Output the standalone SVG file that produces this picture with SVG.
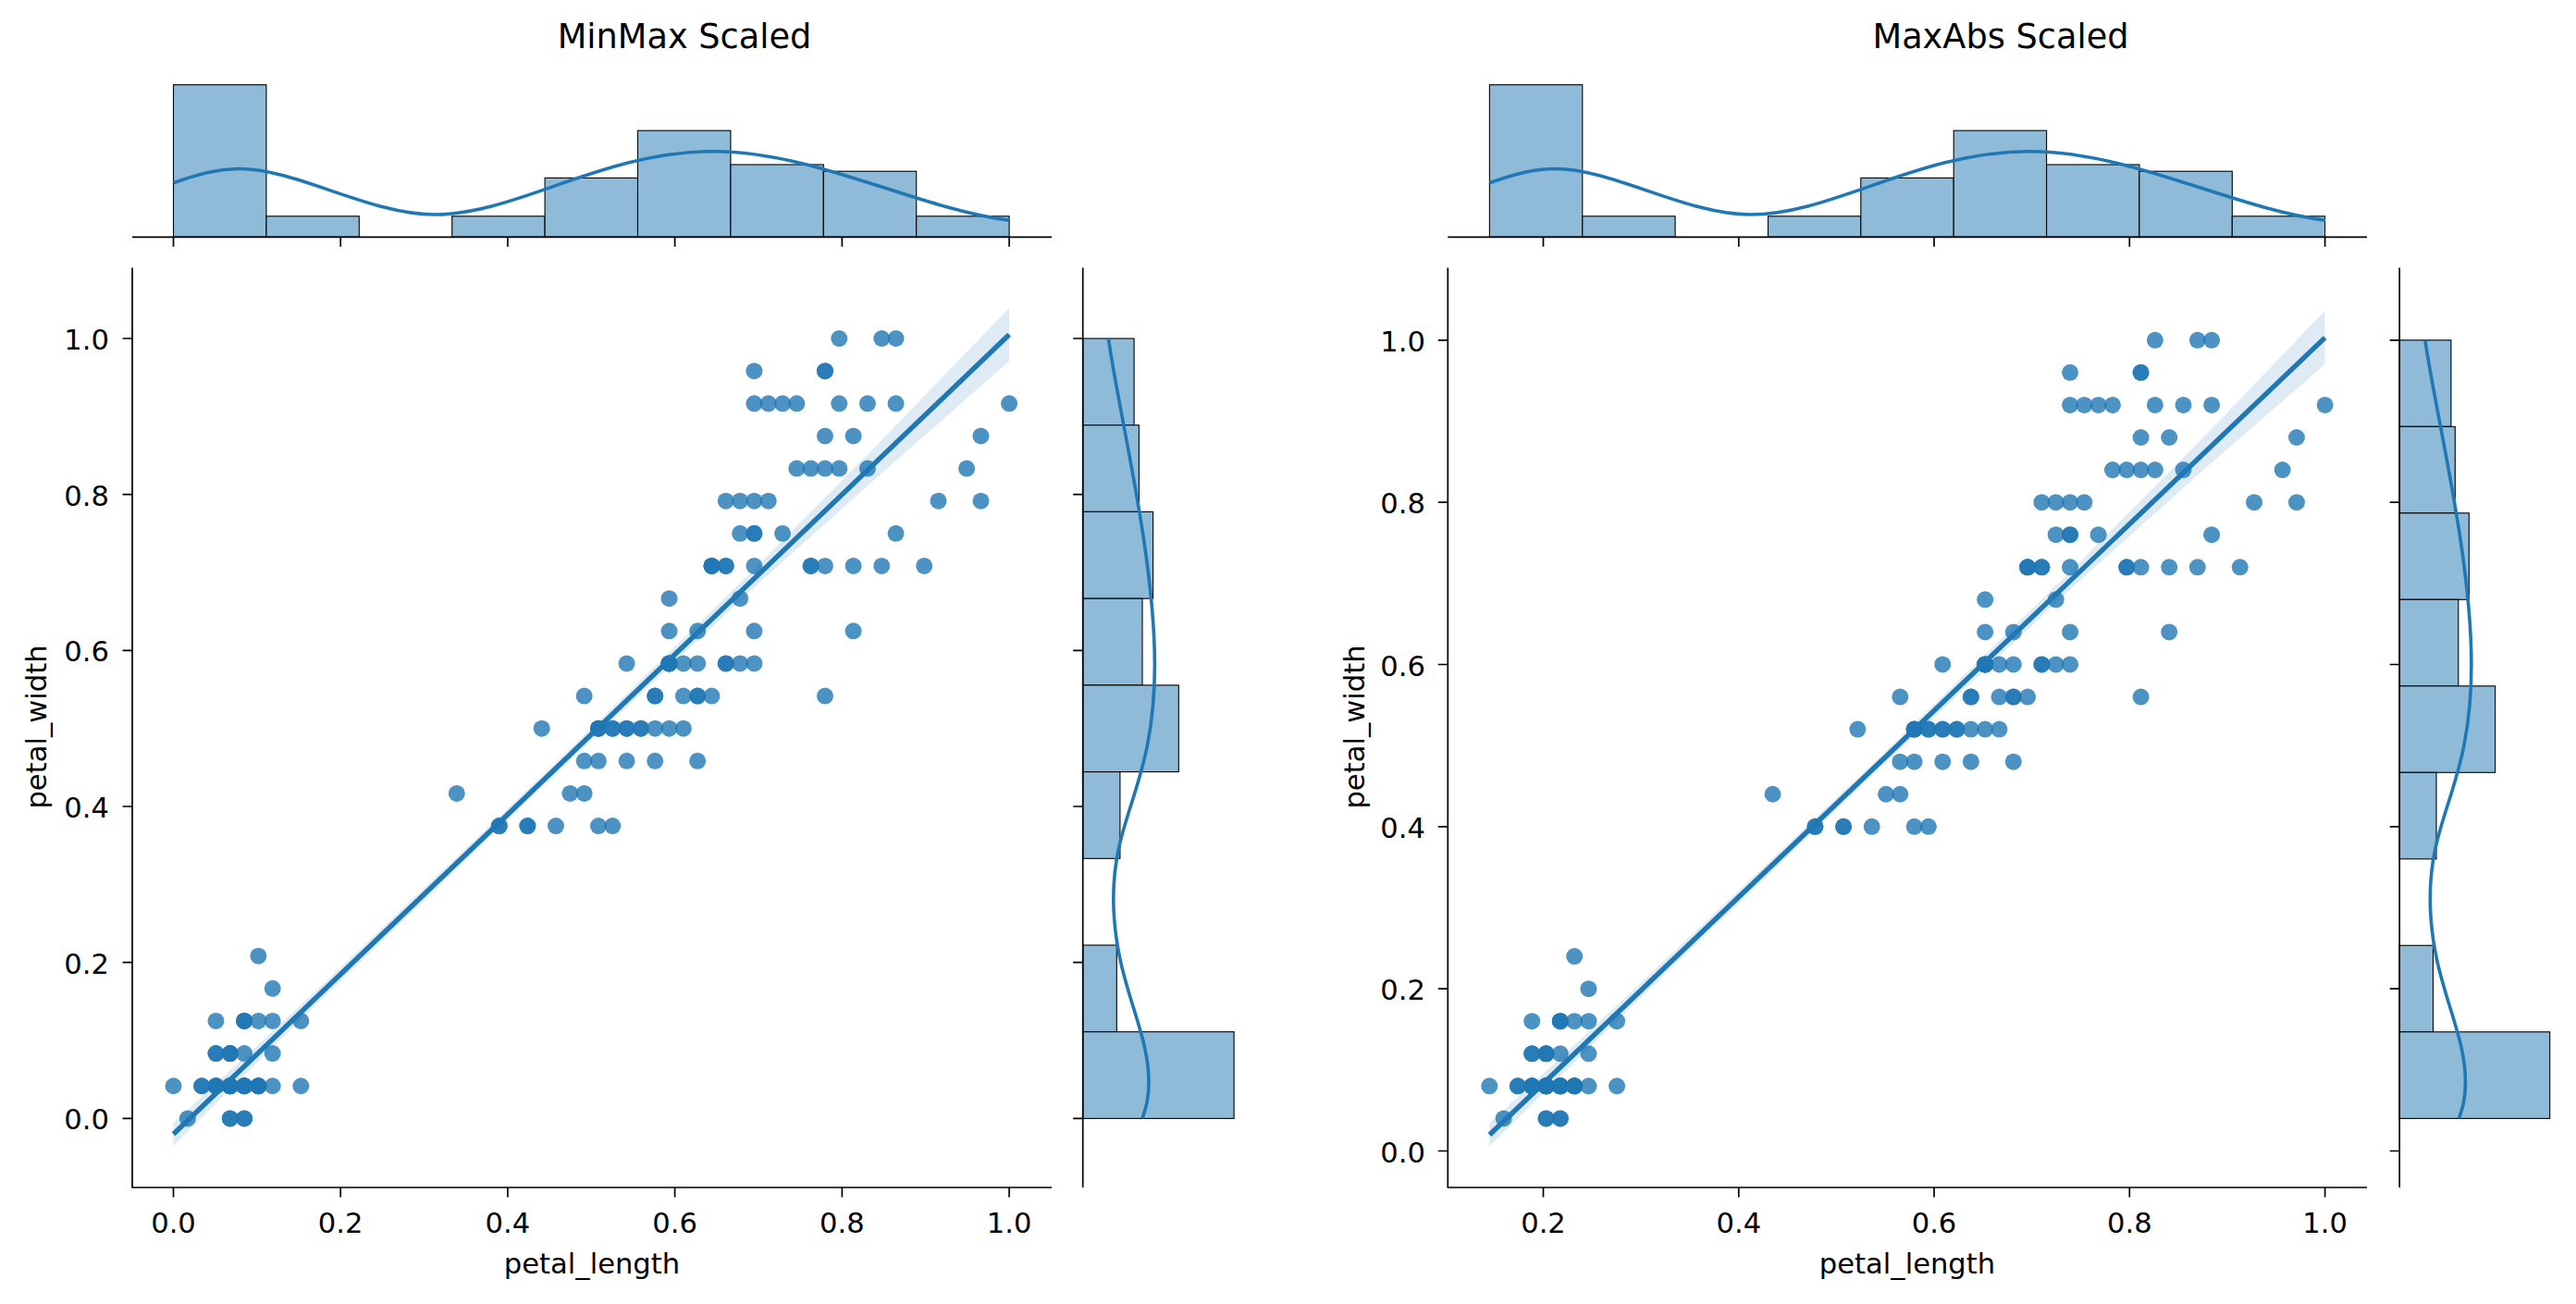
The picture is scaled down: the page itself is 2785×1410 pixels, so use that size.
<svg xmlns="http://www.w3.org/2000/svg" xmlns:xlink="http://www.w3.org/1999/xlink" width="2785" height="1410" viewBox="0 0 2785 1410">
<style>
text{font-family:"DejaVu Sans","Liberation Sans",sans-serif;fill:#000}
.tk{font-size:30.6px}
.lb{font-size:30.6px}
.tt{font-size:36.7px}
.sp{stroke:#000;stroke-width:1.7;fill:none}
.bar{fill:#8fbbd9;stroke:#000;stroke-width:1.1}
.kde{fill:none;stroke:#1f77b4;stroke-width:3.6}
.d{fill:none;stroke:#1f77b4;stroke-opacity:0.8;stroke-width:18;stroke-linecap:round;vector-effect:non-scaling-stroke}
.ci{fill:#1f77b4;fill-opacity:0.15}
.rl{stroke:#1f77b4;stroke-width:5.4;fill:none}
</style>
<defs>
<g id="pts">
<path class="d" d="M1.4 .2h0"/><path class="d" d="M1.4 .2h0"/><path class="d" d="M1.3 .2h0"/><path class="d" d="M1.5 .2h0"/><path class="d" d="M1.4 .2h0"/><path class="d" d="M1.7 .4h0"/><path class="d" d="M1.4 .3h0"/><path class="d" d="M1.5 .2h0"/><path class="d" d="M1.4 .2h0"/><path class="d" d="M1.5 .1h0"/>
<path class="d" d="M1.5 .2h0"/><path class="d" d="M1.6 .2h0"/><path class="d" d="M1.4 .1h0"/><path class="d" d="M1.1 .1h0"/><path class="d" d="M1.2 .2h0"/><path class="d" d="M1.5 .4h0"/><path class="d" d="M1.3 .4h0"/><path class="d" d="M1.4 .3h0"/><path class="d" d="M1.7 .3h0"/><path class="d" d="M1.5 .3h0"/>
<path class="d" d="M1.7 .2h0"/><path class="d" d="M1.5 .4h0"/><path class="d" d="M1.0 .2h0"/><path class="d" d="M1.7 .5h0"/><path class="d" d="M1.9 .2h0"/><path class="d" d="M1.6 .2h0"/><path class="d" d="M1.6 .4h0"/><path class="d" d="M1.5 .2h0"/><path class="d" d="M1.4 .2h0"/><path class="d" d="M1.6 .2h0"/>
<path class="d" d="M1.6 .2h0"/><path class="d" d="M1.5 .4h0"/><path class="d" d="M1.5 .1h0"/><path class="d" d="M1.4 .2h0"/><path class="d" d="M1.5 .2h0"/><path class="d" d="M1.2 .2h0"/><path class="d" d="M1.3 .2h0"/><path class="d" d="M1.4 .1h0"/><path class="d" d="M1.3 .2h0"/><path class="d" d="M1.5 .2h0"/>
<path class="d" d="M1.3 .3h0"/><path class="d" d="M1.3 .3h0"/><path class="d" d="M1.3 .2h0"/><path class="d" d="M1.6 .6h0"/><path class="d" d="M1.9 .4h0"/><path class="d" d="M1.4 .3h0"/><path class="d" d="M1.6 .2h0"/><path class="d" d="M1.4 .2h0"/><path class="d" d="M1.5 .2h0"/><path class="d" d="M1.4 .2h0"/>
<path class="d" d="M4.7 1.4h0"/><path class="d" d="M4.5 1.5h0"/><path class="d" d="M4.9 1.5h0"/><path class="d" d="M4.0 1.3h0"/><path class="d" d="M4.6 1.5h0"/><path class="d" d="M4.5 1.3h0"/><path class="d" d="M4.7 1.6h0"/><path class="d" d="M3.3 1.0h0"/><path class="d" d="M4.6 1.3h0"/><path class="d" d="M3.9 1.4h0"/>
<path class="d" d="M3.5 1.0h0"/><path class="d" d="M4.2 1.5h0"/><path class="d" d="M4.0 1.0h0"/><path class="d" d="M4.7 1.4h0"/><path class="d" d="M3.6 1.3h0"/><path class="d" d="M4.4 1.4h0"/><path class="d" d="M4.5 1.5h0"/><path class="d" d="M4.1 1.0h0"/><path class="d" d="M4.5 1.5h0"/><path class="d" d="M3.9 1.1h0"/>
<path class="d" d="M4.8 1.8h0"/><path class="d" d="M4.0 1.3h0"/><path class="d" d="M4.9 1.5h0"/><path class="d" d="M4.7 1.2h0"/><path class="d" d="M4.3 1.3h0"/><path class="d" d="M4.4 1.4h0"/><path class="d" d="M4.8 1.4h0"/><path class="d" d="M5.0 1.7h0"/><path class="d" d="M4.5 1.5h0"/><path class="d" d="M3.5 1.0h0"/>
<path class="d" d="M3.8 1.1h0"/><path class="d" d="M3.7 1.0h0"/><path class="d" d="M3.9 1.2h0"/><path class="d" d="M5.1 1.6h0"/><path class="d" d="M4.5 1.5h0"/><path class="d" d="M4.5 1.6h0"/><path class="d" d="M4.7 1.5h0"/><path class="d" d="M4.4 1.3h0"/><path class="d" d="M4.1 1.3h0"/><path class="d" d="M4.0 1.3h0"/>
<path class="d" d="M4.4 1.2h0"/><path class="d" d="M4.6 1.4h0"/><path class="d" d="M4.0 1.2h0"/><path class="d" d="M3.3 1.0h0"/><path class="d" d="M4.2 1.3h0"/><path class="d" d="M4.2 1.2h0"/><path class="d" d="M4.2 1.3h0"/><path class="d" d="M4.3 1.3h0"/><path class="d" d="M3.0 1.1h0"/><path class="d" d="M4.1 1.3h0"/>
<path class="d" d="M6.0 2.5h0"/><path class="d" d="M5.1 1.9h0"/><path class="d" d="M5.9 2.1h0"/><path class="d" d="M5.6 1.8h0"/><path class="d" d="M5.8 2.2h0"/><path class="d" d="M6.6 2.1h0"/><path class="d" d="M4.5 1.7h0"/><path class="d" d="M6.3 1.8h0"/><path class="d" d="M5.8 1.8h0"/><path class="d" d="M6.1 2.5h0"/>
<path class="d" d="M5.1 2.0h0"/><path class="d" d="M5.3 1.9h0"/><path class="d" d="M5.5 2.1h0"/><path class="d" d="M5.0 2.0h0"/><path class="d" d="M5.1 2.4h0"/><path class="d" d="M5.3 2.3h0"/><path class="d" d="M5.5 1.8h0"/><path class="d" d="M6.7 2.2h0"/><path class="d" d="M6.9 2.3h0"/><path class="d" d="M5.0 1.5h0"/>
<path class="d" d="M5.7 2.3h0"/><path class="d" d="M4.9 2.0h0"/><path class="d" d="M6.7 2.0h0"/><path class="d" d="M4.9 1.8h0"/><path class="d" d="M5.7 2.1h0"/><path class="d" d="M6.0 1.8h0"/><path class="d" d="M4.8 1.8h0"/><path class="d" d="M4.9 1.8h0"/><path class="d" d="M5.6 2.1h0"/><path class="d" d="M5.8 1.6h0"/>
<path class="d" d="M6.1 1.9h0"/><path class="d" d="M6.4 2.0h0"/><path class="d" d="M5.6 2.2h0"/><path class="d" d="M5.1 1.5h0"/><path class="d" d="M5.6 1.4h0"/><path class="d" d="M6.1 2.3h0"/><path class="d" d="M5.6 2.4h0"/><path class="d" d="M5.5 1.8h0"/><path class="d" d="M4.8 1.8h0"/><path class="d" d="M5.4 2.1h0"/>
<path class="d" d="M5.6 2.4h0"/><path class="d" d="M5.1 2.3h0"/><path class="d" d="M5.1 1.9h0"/><path class="d" d="M5.9 2.3h0"/><path class="d" d="M5.7 2.5h0"/><path class="d" d="M5.2 2.3h0"/><path class="d" d="M5.0 1.9h0"/><path class="d" d="M5.2 2.0h0"/><path class="d" d="M5.4 2.3h0"/><path class="d" d="M5.1 1.8h0"/>
</g>
</defs>
<rect width="2785" height="1410" fill="#fff"/>

<g id="minmax-joint">
<text class="tt" x="740" y="52" text-anchor="middle">MinMax Scaled</text>
<g id="minmax-top-hist">
<rect class="bar" x="187.5" y="91.7" width="100.4" height="164.6"/>
<rect class="bar" x="287.9" y="233.8" width="100.4" height="22.5"/>
<rect class="bar" x="488.7" y="233.8" width="100.4" height="22.5"/>
<rect class="bar" x="589.1" y="192.4" width="100.4" height="63.9"/>
<rect class="bar" x="689.5" y="141.2" width="100.4" height="115.1"/>
<rect class="bar" x="789.9" y="178" width="100.4" height="78.3"/>
<rect class="bar" x="890.3" y="185.2" width="100.4" height="71.1"/>
<rect class="bar" x="990.7" y="233.8" width="100.4" height="22.5"/>
<path class="kde" d="M187.5,197.8 C215,188 235,182.5 259,182.5 C320,182.5 400,232 469,232 C560,232 650,163.7 772,163.7 C880,163.7 990,225 1091,238.3"/>
<path class="sp" d="M143,256.3H1137M187.5,256.3v10.5M368.2,256.3v10.5M548.9,256.3v10.5M729.6,256.3v10.5M910.4,256.3v10.5M1091.1,256.3v10.5"/>
</g>
<g id="minmax-right-hist">
<rect class="bar" x="1170.7" y="366" width="55.4" height="93.7"/>
<rect class="bar" x="1170.7" y="459.7" width="60.7" height="93.7"/>
<rect class="bar" x="1170.7" y="553.4" width="75.9" height="93.8"/>
<rect class="bar" x="1170.7" y="647.2" width="64.3" height="93.7"/>
<rect class="bar" x="1170.7" y="740.9" width="103.6" height="93.7"/>
<rect class="bar" x="1170.7" y="834.6" width="40.2" height="93.7"/>
<rect class="bar" x="1170.7" y="1022" width="36.6" height="93.7"/>
<rect class="bar" x="1170.7" y="1115.7" width="163.4" height="93.7"/>
<path class="kde" d="M1198.4,366 C1210,450 1248.4,600 1248.4,719 C1248.4,850 1203.8,880 1203.8,971 C1203.8,1060 1242,1110 1242,1170 C1242,1190 1238,1200 1235,1209.4"/>
<path class="sp" d="M1170.7,289.5V1284M1170.7,1209.4h-10.5M1170.7,1040.7h-10.5M1170.7,872h-10.5M1170.7,703.4h-10.5M1170.7,534.7h-10.5M1170.7,366h-10.5"/>
</g>
<g id="minmax-scatter">
<use xlink:href="#pts" href="#pts" transform="matrix(153.15 0 0 -351.42 34.35 1244.54)"/>
<path class="ci" d="M187.5,1214 L277.9,1130.8 L368.2,1046.4 L609.5,816.5 L820,611 L955.6,473.5 L1091.1,333 L1091.1,390.5 L955.6,509.5 L820,631 L609.5,828.5 L368.2,1060.4 L277.9,1148.8 L187.5,1239 Z"/>
<path class="rl" d="M187.5,1226.3L1091.1,361.8"/>
<path class="sp" d="M143,289.5V1284H1137"/>
<path class="sp" d="M187.5,1284v10.5M368.2,1284v10.5M548.9,1284v10.5M729.6,1284v10.5M910.4,1284v10.5M1091.1,1284v10.5M143,1209.4h-10.5M143,1040.7h-10.5M143,872h-10.5M143,703.4h-10.5M143,534.7h-10.5M143,366h-10.5"/>
<g class="tk" text-anchor="middle">
<text x="187.5" y="1332.5">0.0</text><text x="368.2" y="1332.5">0.2</text><text x="548.9" y="1332.5">0.4</text><text x="729.6" y="1332.5">0.6</text><text x="910.4" y="1332.5">0.8</text><text x="1091.1" y="1332.5">1.0</text>
</g>
<g class="tk" text-anchor="end">
<text x="118" y="1221.4">0.0</text><text x="118" y="1052.7">0.2</text><text x="118" y="884">0.4</text><text x="118" y="715.4">0.6</text><text x="118" y="546.7">0.8</text><text x="118" y="378">1.0</text>
</g>
<text class="lb" x="640" y="1377" text-anchor="middle">petal_length</text>
<text class="lb" transform="translate(50,786) rotate(-90)" text-anchor="middle">petal_width</text>
</g>
</g>

<g id="maxabs-joint">
<text class="tt" x="2163" y="52" text-anchor="middle">MaxAbs Scaled</text>
<g id="maxabs-top-hist">
<rect class="bar" x="1610.4" y="91.7" width="100.4" height="164.6"/>
<rect class="bar" x="1710.8" y="233.8" width="100.3" height="22.5"/>
<rect class="bar" x="1911.5" y="233.8" width="100.3" height="22.5"/>
<rect class="bar" x="2011.8" y="192.4" width="100.4" height="63.9"/>
<rect class="bar" x="2112.2" y="141.2" width="100.4" height="115.1"/>
<rect class="bar" x="2212.6" y="178" width="100.3" height="78.3"/>
<rect class="bar" x="2312.9" y="185.2" width="100.4" height="71.1"/>
<rect class="bar" x="2413.3" y="233.8" width="100.3" height="22.5"/>
<path class="kde" transform="translate(1422.9,0)" d="M187.5,197.8 C215,188 235,182.5 259,182.5 C320,182.5 400,232 469,232 C560,232 650,163.7 772,163.7 C880,163.7 990,225 1091,238.3"/>
<path class="sp" d="M1565.3,256.3H2559M1668.5,256.3v10.5M1879.8,256.3v10.5M2091,256.3v10.5M2302.3,256.3v10.5M2513.6,256.3v10.5"/>
</g>
<g id="maxabs-right-hist">
<rect class="bar" x="2594.2" y="367.8" width="55.7" height="93.5"/>
<rect class="bar" x="2594.2" y="461.3" width="60.1" height="93.5"/>
<rect class="bar" x="2594.2" y="554.8" width="75.1" height="93.5"/>
<rect class="bar" x="2594.2" y="648.3" width="63.6" height="93.5"/>
<rect class="bar" x="2594.2" y="741.8" width="103.4" height="93.5"/>
<rect class="bar" x="2594.2" y="835.3" width="39.8" height="93.5"/>
<rect class="bar" x="2594.2" y="1022.3" width="36.3" height="93.5"/>
<rect class="bar" x="2594.2" y="1115.8" width="162.5" height="93.6"/>
<path class="kde" transform="translate(1423.5,0)" d="M1198.4,367.8 C1210,450 1248.4,600 1248.4,719 C1248.4,850 1203.8,880 1203.8,971 C1203.8,1060 1242,1110 1242,1170 C1242,1190 1238,1200 1235,1209.4"/>
<path class="sp" d="M2594.2,289.5V1284M2594.2,1244.5h-10.5M2594.2,1069.2h-10.5M2594.2,893.8h-10.5M2594.2,718.5h-10.5M2594.2,543.2h-10.5M2594.2,367.8h-10.5"/>
</g>
<g id="maxabs-scatter">
<use xlink:href="#pts" href="#pts" transform="matrix(153.1 0 0 -350.68 1457.22 1244.5)"/>
<path class="ci" d="M1610.4,1214.5 L1721.3,1112 L1826.9,1013 L2033,818 L2249.5,607 L2386.9,468 L2513.6,336 L2513.6,394 L2386.9,504 L2249.5,627 L2033,830 L1826.9,1027 L1721.3,1130 L1610.4,1239.5 Z"/>
<path class="rl" d="M1610.4,1227L2513.6,365.1"/>
<path class="sp" d="M1565.3,289.5V1284H2559"/>
<path class="sp" d="M1668.5,1284v10.5M1879.8,1284v10.5M2091,1284v10.5M2302.3,1284v10.5M2513.6,1284v10.5M1565.3,1244.5h-10.5M1565.3,1069.2h-10.5M1565.3,893.8h-10.5M1565.3,718.5h-10.5M1565.3,543.2h-10.5M1565.3,367.8h-10.5"/>
<g class="tk" text-anchor="middle">
<text x="1668.5" y="1332.5">0.2</text><text x="1879.8" y="1332.5">0.4</text><text x="2091" y="1332.5">0.6</text><text x="2302.3" y="1332.5">0.8</text><text x="2513.6" y="1332.5">1.0</text>
</g>
<g class="tk" text-anchor="end">
<text x="1541" y="1256.5">0.0</text><text x="1541" y="1081.2">0.2</text><text x="1541" y="905.8">0.4</text><text x="1541" y="730.5">0.6</text><text x="1541" y="555.2">0.8</text><text x="1541" y="379.8">1.0</text>
</g>
<text class="lb" x="2062" y="1377" text-anchor="middle">petal_length</text>
<text class="lb" transform="translate(1475,786) rotate(-90)" text-anchor="middle">petal_width</text>
</g>
</g>
</svg>
